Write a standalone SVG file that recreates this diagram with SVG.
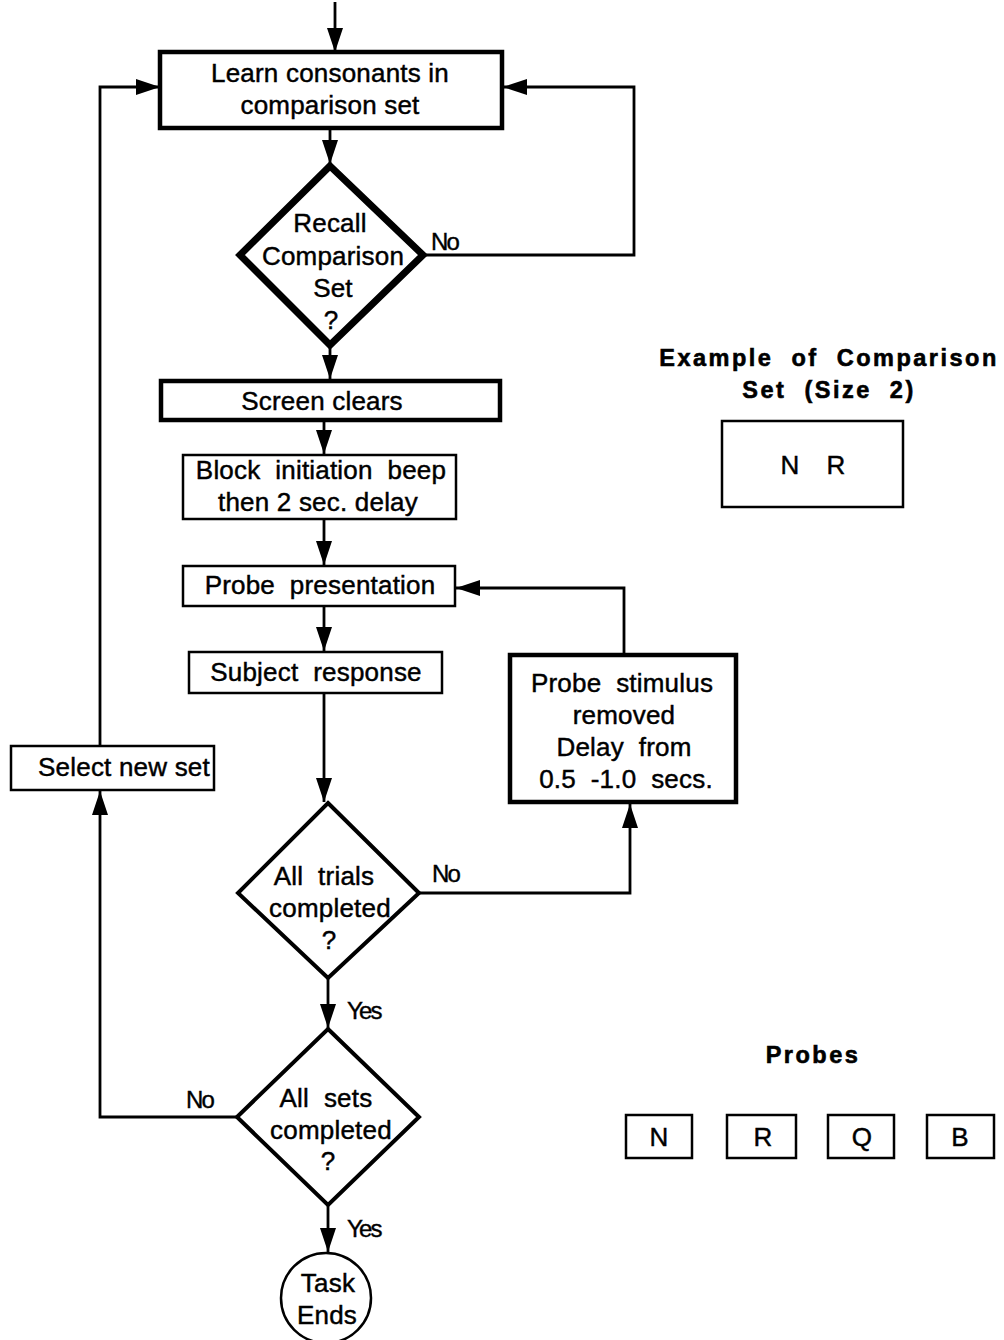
<svg xmlns="http://www.w3.org/2000/svg" width="1004" height="1340" viewBox="0 0 1004 1340">
  <style>
    .bg { fill: #ffffff; }
    .box { fill: #ffffff; stroke: #000; stroke-width: 2.5; }
    .thick { fill: #ffffff; stroke: #000; stroke-width: 4.5; }
    .dia { fill: #ffffff; stroke: #000; stroke-width: 4; }
    .dia-heavy { fill: #ffffff; stroke: #000; stroke-width: 7; stroke-linejoin: miter; }
    .conn { fill: none; stroke: #000; stroke-width: 2.8; }
    text { white-space: pre; }
    .t { font-family: "Liberation Sans", Arial, sans-serif; font-size: 26px; fill: #000; stroke: #000; stroke-width: 0.45; text-anchor: middle; letter-spacing: 0.2px; }
    .lbl { font-family: "Liberation Sans", Arial, sans-serif; font-size: 24px; fill: #000; stroke: #000; stroke-width: 0.4; letter-spacing: -1.8px; }
    .hd { font-family: "Liberation Sans", Arial, sans-serif; font-size: 23.5px; font-weight: bold; fill: #000; stroke: #000; stroke-width: 0.6; text-anchor: middle; letter-spacing: 2.5px; }
  </style>
  <defs>
    <marker id="arrow" markerUnits="userSpaceOnUse" viewBox="0 0 24 16" markerWidth="24" markerHeight="16" refX="24" refY="8" orient="auto">
      <path d="M0,0 L24,8 L0,16 z" fill="#000"/>
    </marker>
  </defs>
  <rect class="bg" x="0" y="0" width="1004" height="1340"/>

  <!-- connectors -->
  <g id="connectors">
    <line class="conn" x1="335" y1="2" x2="335" y2="52" marker-end="url(#arrow)"/>
    <line class="conn" x1="330" y1="130" x2="330" y2="164" marker-end="url(#arrow)"/>
    <polyline class="conn" points="425,255 634,255 634,87 503,87" marker-end="url(#arrow)"/>
    <line class="conn" x1="330" y1="347" x2="330" y2="379" marker-end="url(#arrow)"/>
    <line class="conn" x1="324" y1="422" x2="324" y2="454" marker-end="url(#arrow)"/>
    <line class="conn" x1="324" y1="519" x2="324" y2="565" marker-end="url(#arrow)"/>
    <line class="conn" x1="324" y1="606" x2="324" y2="651" marker-end="url(#arrow)"/>
    <line class="conn" x1="324" y1="693" x2="324" y2="802" marker-end="url(#arrow)"/>
    <polyline class="conn" points="420,893 630,893 630,804" marker-end="url(#arrow)"/>
    <polyline class="conn" points="624,654 624,588 456,588" marker-end="url(#arrow)"/>
    <line class="conn" x1="328" y1="978" x2="328" y2="1028" marker-end="url(#arrow)"/>
    <polyline class="conn" points="236,1117 100,1117 100,791" marker-end="url(#arrow)"/>
    <polyline class="conn" points="100,745 100,87 160,87" marker-end="url(#arrow)"/>
    <line class="conn" x1="328" y1="1205" x2="328" y2="1252" marker-end="url(#arrow)"/>
    <text class="lbl" x="431" y="250">No</text>
    <text class="lbl" x="432" y="882">No</text>
    <text class="lbl" x="347" y="1019">Yes</text>
    <text class="lbl" x="186" y="1108">No</text>
    <text class="lbl" x="347" y="1237">Yes</text>
  </g>

  <g id="learn">
    <rect class="thick" x="160" y="52" width="342" height="76"/>
    <text class="t" x="330" y="82">Learn consonants in</text>
    <text class="t" x="330" y="114">comparison set</text>
  </g>

  <g id="recall">
    <polygon class="dia-heavy" points="330,166 423,255 330,345 240,255"/>
    <text class="t" x="330" y="232">Recall</text>
    <text class="t" x="333" y="265">Comparison</text>
    <text class="t" x="333" y="297">Set</text>
    <text class="t" x="331" y="329">?</text>
  </g>

  <g id="screen-clears">
    <rect class="thick" x="161" y="381" width="339" height="39"/>
    <text class="t" x="322" y="410">Screen clears</text>
  </g>

  <g id="beep">
    <rect class="box" x="183" y="455" width="273" height="64"/>
    <text class="t" x="321" y="479">Block  initiation  beep</text>
    <text class="t" x="318" y="511">then 2 sec. delay</text>
  </g>

  <g id="probe-presentation">
    <rect class="box" x="183" y="566" width="272" height="40"/>
    <text class="t" x="320" y="594">Probe  presentation</text>
  </g>

  <g id="subject-response">
    <rect class="box" x="189" y="652" width="253" height="41"/>
    <text class="t" x="316" y="681">Subject  response</text>
  </g>

  <g id="probe-removed">
    <rect class="thick" x="510" y="655" width="226" height="147"/>
    <text class="t" x="622" y="692">Probe  stimulus</text>
    <text class="t" x="624" y="724">removed</text>
    <text class="t" x="624" y="756">Delay  from</text>
    <text class="t" x="626" y="788">0.5  -1.0  secs.</text>
  </g>

  <g id="select-new-set">
    <rect class="box" x="11" y="746" width="203" height="44"/>
    <text class="t" x="124" y="776">Select new set</text>
  </g>

  <g id="all-trials">
    <polygon class="dia" points="328,803 419,893 328,978 238,893"/>
    <text class="t" x="324" y="885">All  trials</text>
    <text class="t" x="330" y="917">completed</text>
    <text class="t" x="329" y="949">?</text>
  </g>

  <g id="all-sets">
    <polygon class="dia" points="328,1029 419,1117 328,1205 237,1117"/>
    <text class="t" x="326" y="1107">All  sets</text>
    <text class="t" x="331" y="1139">completed</text>
    <text class="t" x="328" y="1170">?</text>
  </g>

  <g id="task-ends">
    <circle class="box" cx="326" cy="1298" r="45"/>
    <text class="t" x="328" y="1292">Task</text>
    <text class="t" x="327" y="1324">Ends</text>
  </g>

  <g id="example-set">
    <text class="hd" x="829" y="366">Example  of  Comparison</text>
    <text class="hd" x="829" y="398">Set  (Size  2)</text>
    <rect class="box" x="722" y="421" width="181" height="86"/>
    <text class="t" x="790" y="474">N</text>
    <text class="t" x="836" y="474">R</text>
  </g>

  <g id="probes">
    <text class="hd" x="813" y="1063">Probes</text>
    <rect class="box" x="626" y="1115" width="66" height="43"/>
    <text class="t" x="659" y="1146">N</text>
    <rect class="box" x="727" y="1115" width="69" height="43"/>
    <text class="t" x="763" y="1146">R</text>
    <rect class="box" x="828" y="1115" width="66" height="43"/>
    <text class="t" x="862" y="1146">Q</text>
    <rect class="box" x="927" y="1115" width="67" height="43"/>
    <text class="t" x="960" y="1146">B</text>
  </g>
</svg>
